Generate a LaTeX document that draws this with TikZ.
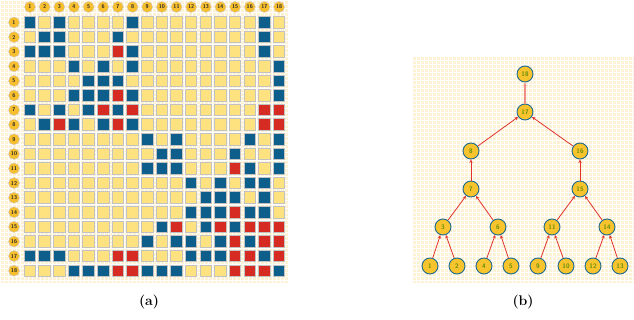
\documentclass[tikz,border=0pt]{standalone}
\usepackage{xcolor}
\usepackage{tikz}
\usetikzlibrary{arrows.meta,positioning,calc}
\definecolor{paper}{RGB}{253,241,214}
\definecolor{cellY}{RGB}{255,226,128}
\definecolor{cellB}{RGB}{14,94,139}
\definecolor{cellR}{RGB}{214,43,34}
\definecolor{labfill}{RGB}{247,190,46}
\definecolor{treefill}{RGB}{247,196,45}
\definecolor{treeline}{RGB}{29,106,143}
\definecolor{treetext}{RGB}{100,140,10}
\definecolor{link}{RGB}{226,51,42}

\begin{document}
\begin{tikzpicture}[x=1pt,y=1pt,
    cell/.style={draw=black!24,line width=0.9pt,minimum size=11.5pt,inner sep=0pt},
    lab/.style={circle,fill=labfill,draw=black!20,line width=0.4pt,minimum size=11pt,inner sep=0pt,
      font=\fontsize{5.5}{6}\selectfont\sffamily\bfseries,text=black!85},
    tn/.style={circle,fill=treefill,draw=treeline,line width=0.9pt,minimum size=16pt,inner sep=0pt,
      font=\fontsize{6.5}{7}\selectfont\sffamily\bfseries,text=treetext},
    up/.style={draw=link,line width=0.8pt,-{Stealth[length=3.5pt,width=3.2pt]}},
    captxt/.style={font=\fontsize{14}{16}\selectfont\bfseries}]
  \useasboundingbox (0,0) rectangle (634,-320);
  % backgrounds
  \fill[paper] (0,-283) rectangle (288,0);
  \draw[white,line width=0.5pt,step=4] (0,-283) grid (288,0);
  \fill[paper] (413,-283) rectangle (634,-57);
  \draw[white,line width=0.5pt,step=4] (413,-283) grid (634,-57);
  % (a) matrix
  \foreach \i in {1,...,18} {
    \node[lab] (c\i) at ({30+(\i-1)*14.65},-7) {\i};
    \node[lab] (r\i) at (14,{-22.5-(\i-1)*14.6}) {\i};
  }
  \foreach \row [count=\i] in {
      {B,Y,B,Y,Y,Y,Y,B,Y,Y,Y,Y,Y,Y,Y,Y,B,Y},
      {Y,B,B,Y,Y,Y,B,Y,Y,Y,Y,Y,Y,Y,Y,Y,B,Y},
      {B,B,B,Y,Y,Y,R,B,Y,Y,Y,Y,Y,Y,Y,Y,B,Y},
      {Y,Y,Y,B,Y,B,Y,B,Y,Y,Y,Y,Y,Y,Y,Y,Y,B},
      {Y,Y,Y,Y,B,B,B,Y,Y,Y,Y,Y,Y,Y,Y,Y,Y,B},
      {Y,Y,Y,B,B,B,R,B,Y,Y,Y,Y,Y,Y,Y,Y,Y,B},
      {B,Y,B,Y,B,R,B,R,Y,Y,Y,Y,Y,Y,Y,Y,R,R},
      {Y,B,R,B,Y,B,R,B,Y,Y,Y,Y,Y,Y,Y,Y,R,R},
      {Y,Y,Y,Y,Y,Y,Y,Y,B,Y,B,Y,Y,Y,Y,B,Y,B},
      {Y,Y,Y,Y,Y,Y,Y,Y,Y,B,B,Y,Y,Y,B,Y,Y,B},
      {Y,Y,Y,Y,Y,Y,Y,Y,B,B,B,Y,Y,Y,R,B,Y,B},
      {Y,Y,Y,Y,Y,Y,Y,Y,Y,Y,Y,B,Y,B,Y,B,B,Y},
      {Y,Y,Y,Y,Y,Y,Y,Y,Y,Y,Y,Y,B,B,B,Y,B,Y},
      {Y,Y,Y,Y,Y,Y,Y,Y,Y,Y,Y,B,B,B,R,B,B,Y},
      {Y,Y,Y,Y,Y,Y,Y,Y,Y,B,R,Y,B,R,B,R,R,R},
      {Y,Y,Y,Y,Y,Y,Y,Y,B,Y,B,B,Y,B,R,B,R,R},
      {B,B,B,Y,Y,Y,R,R,Y,Y,Y,B,B,B,R,R,B,R},
      {Y,Y,Y,B,B,B,R,R,B,B,B,Y,Y,Y,R,R,R,B}} {
    \foreach \c [count=\j] in \row
      \node[cell,fill=cell\c] (m-\i-\j) at ({30+(\j-1)*14.65},{-22.5-(\i-1)*14.6}) {};
  }
  % (b) tree
  \foreach \n/\x/\y in {18/525/74,17/525/112,8/471/151,16/580/151,7/471/189,15/580/189,
      3/443/227,6/498/227,11/552/227,14/607/227,1/430/266,2/457/266,4/484/266,5/511/266,
      9/538/266,10/566/266,12/593/266,13/620/266}
    \node[tn] (t\n) at (\x,-\y) {\n};
  \foreach \a/\b in {1/3,2/3,4/6,5/6,9/11,10/11,12/14,13/14,3/7,6/7,11/15,14/15,7/8,15/16,8/17,16/17}
    \draw[up] (t\a) -- (t\b);
  \draw[up,draw=link!55,line width=1.8pt] (t17) -- (t18);
  % captions
  \node[captxt] (capa) at (149,-302) {(a)};
  \node[captxt] (capb) at (523,-302) {(b)};
\end{tikzpicture}
\end{document}
